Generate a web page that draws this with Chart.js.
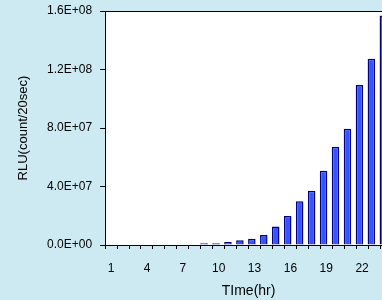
<!DOCTYPE html>
<html>
<head>
<meta charset="utf-8">
<script src="https://cdn.jsdelivr.net/npm/chart.js@4"></script>
<style>
  html, body { margin: 0; padding: 0; overflow: hidden; background: #cdeaf3; }
  #wrap { width: 400px; height: 300px; }
</style>
</head>
<body>
<div id="wrap"><canvas id="chart"></canvas></div>
<script>
  // hours 1..24
  const hours = ["1","2","3","4","5","6","7","8","9","10","11","12",
                 "13","14","15","16","17","18","19","20","21","22","23","24"];
  // RLU (count/20sec)
  const rlu = [0, 0, 0, 0, 0, 0, 0, 0, 1.2e6, 1.2e6, 2.0e6, 3.2e6,
               4.3e6, 6.9e6, 1.26e7, 1.98e7, 2.99e7, 3.71e7, 5.08e7, 6.72e7,
               7.95e7, 1.094e8, 1.274e8, 1.57e8];
  // second (empty) series, keeps bars on the left of each slot like the original
  const empty = hours.map(() => null);
  const yTicks = [0, 4e7, 8e7, 1.2e8, 1.6e8];

  const fmtE = (v) => {
    const [m, e] = v.toExponential(1).toUpperCase().split("E");
    const sign = e[0] === "-" ? "-" : "+";
    const n = Math.abs(parseInt(e, 10));
    return m + "E" + sign + (n < 10 ? "0" + n : n);
  };

  const font = { family: "'Liberation Sans', Arial, sans-serif", size: 12 };

  const plotBg = {
    id: "plotBg",
    beforeDraw(chart) {
      const { ctx, chartArea: a } = chart;
      ctx.save();
      ctx.fillStyle = "#ffffff";
      ctx.fillRect(a.left, a.top, a.right - a.left, a.bottom - a.top);
      ctx.restore();
    }
  };

  new Chart(document.getElementById("chart"), {
    type: "bar",
    data: {
      labels: hours,
      datasets: [
        {
          data: rlu,
          backgroundColor: "#3355ff",
          borderColor: "#000080",
          borderWidth: (c) => (c.raw ? 1.5 : 0),
          borderSkipped: "bottom",
          categoryPercentage: 0.9,
          barPercentage: 1.4
        },
        { data: empty, categoryPercentage: 0.9, barPercentage: 1.4 }
      ]
    },
    options: {
      responsive: true,
      maintainAspectRatio: false,
      animation: false,
      layout: { padding: { left: 15.5, right: 8, top: 1, bottom: 0 } },
      plugins: { legend: { display: false }, tooltip: { enabled: false } },
      scales: {
        x: {
          grid: {
            offset: true,
            drawOnChartArea: false,
            drawTicks: true,
            tickLength: 4,
            color: "#000"
          },
          border: { color: "#000", width: 1 },
          ticks: {
            autoSkip: false,
            maxRotation: 0,
            color: "#000",
            font: font,
            padding: 12,
            callback: (v, i) => (i % 3 === 0 ? hours[i] : "")
          },
          title: {
            display: true,
            text: "TIme(hr)",
            color: "#000",
            font: { family: font.family, size: 14 },
            padding: { top: -4.2, bottom: 0 }
          }
        },
        y: {
          min: 0,
          max: 1.6e8,
          afterBuildTicks: (s) => { s.ticks = yTicks.map((v) => ({ value: v })); },
          grid: {
            drawOnChartArea: true,
            tickLength: 5,
            color: (c) => (c.tick && c.tick.value === 1.6e8 ? "#000" : "rgba(0,0,0,0)"),
            tickColor: "#000"
          },
          border: { color: "#000", width: 1 },
          ticks: {
            color: "#000",
            font: { family: font.family, size: 12, lineHeight: 0.5 },
            padding: 8,
            callback: (v) => fmtE(v)
          },
          title: {
            display: true,
            text: "RLU(count/20sec)",
            color: "#000",
            font: { family: font.family, size: 13 },
            padding: { top: 0, bottom: 8 }
          }
        }
      }
    },
    plugins: [plotBg]
  });
</script>
</body>
</html>
